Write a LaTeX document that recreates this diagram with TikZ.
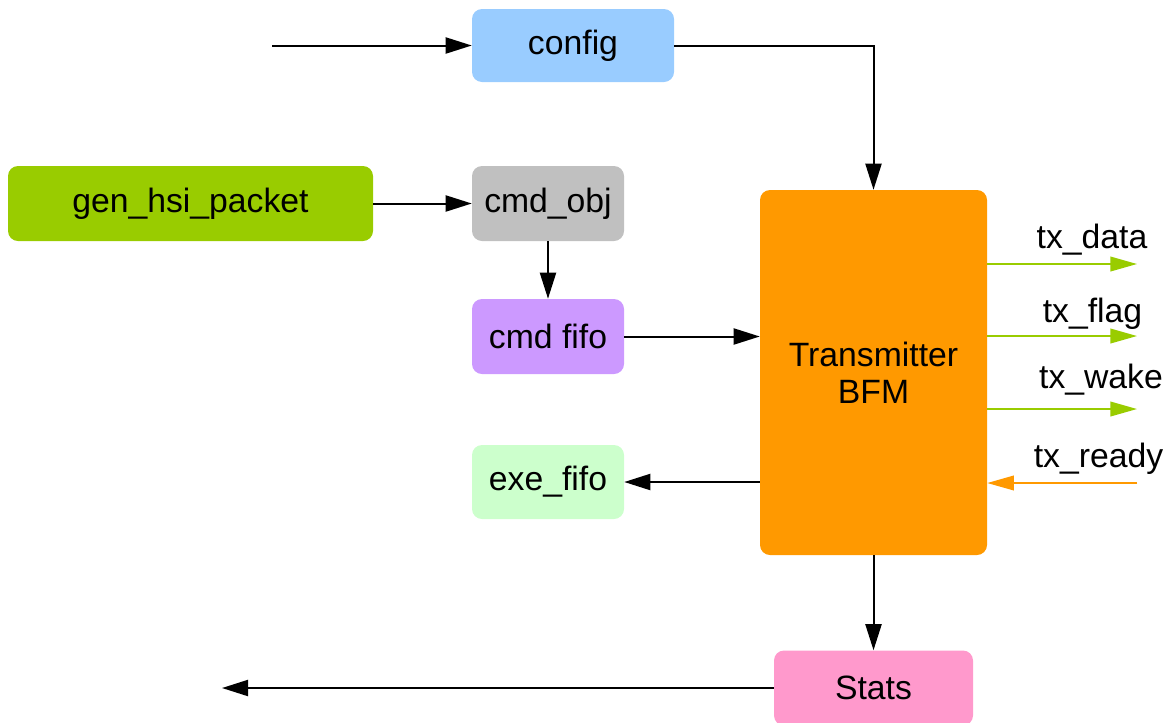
\documentclass[tikz,border=0pt]{standalone}
\usepackage{fontspec}
\setmainfont{Liberation Sans}
\usetikzlibrary{arrows.meta}
\definecolor{cfgblue}{HTML}{99CCFF}
\definecolor{gengreen}{HTML}{99CC00}
\definecolor{objgray}{HTML}{C0C0C0}
\definecolor{fifopurple}{HTML}{CC99FF}
\definecolor{exegreen}{HTML}{CCFFCC}
\definecolor{bfmorange}{HTML}{FF9900}
\definecolor{statspink}{HTML}{FF99CC}
\begin{document}
\begin{tikzpicture}[x=0.75pt,y=-0.75pt,
  box/.style={rounded corners=7.5pt,inner sep=0pt,align=center,
    font=\fontsize{25.3}{27.75}\selectfont},
  conn/.style={line width=1.5pt,-{Triangle[length=19.5pt,width=12pt]}},
  sig/.style={line width=1.3pt,-{Triangle[length=20pt,width=11pt]}},
  lbl/.style={anchor=base,inner sep=0pt,font=\fontsize{25.3}{28}\selectfont}]
\useasboundingbox (0,0) rectangle (1167,722);
\clip (0,0) rectangle (1167,722);

\node[box,fill=cfgblue,minimum width=151.5pt,minimum height=54.75pt] (config) at (573,45.5) {config};
\node[box,fill=gengreen,minimum width=273.75pt,minimum height=56.25pt] (gen) at (190.5,203.5) {gen\_hsi\_packet};
\node[box,fill=objgray,minimum width=114pt,minimum height=56.25pt] (cmdobj) at (548,203.5) {cmd\_obj};
\node[box,fill=fifopurple,minimum width=114pt,minimum height=56.25pt] (cmdfifo) at (548,336.5) {cmd fifo};
\node[box,fill=exegreen,minimum width=114pt,minimum height=55.5pt] (exe) at (548,482) {exe\_fifo};
\node[box,fill=bfmorange,minimum width=170.25pt,minimum height=273.75pt] (bfm) at (873.5,372.5) {Transmitter\\BFM};
\node[box,fill=statspink,minimum width=149.25pt,minimum height=56.25pt] (stats) at (873.5,688) {Stats};

\coordinate (cfgin) at (272,45.5);
\coordinate (statsout) at (222,688);
\coordinate (txd) at (1137,264);
\coordinate (txf) at (1137,336);
\coordinate (txw) at (1137,409);
\coordinate (txr) at (1137,483);

\draw[conn] (cfgin) -- (config.west);
\draw[conn] (config.east) -| (bfm.north);
\draw[conn] (gen.east) -- (cmdobj.west);
\draw[conn] (cmdobj.south) -- (cmdfifo.north);
\draw[conn] (cmdfifo.east) -- (cmdfifo.east -| bfm.west);
\draw[conn] (exe.east -| bfm.west) -- (exe.east);
\draw[conn] (bfm.south) -- (stats.north);
\draw[conn] (stats.west) -- (statsout);

\draw[sig,draw=gengreen,fill=gengreen] (txd -| bfm.east) -- (txd);
\draw[sig,draw=gengreen,fill=gengreen] (txf -| bfm.east) -- (txf);
\draw[sig,draw=gengreen,fill=gengreen] (txw -| bfm.east) -- (txw);
\draw[sig,draw=bfmorange,fill=bfmorange] (txr) -- (txr -| bfm.east);

\node[lbl] (ltxd) at (1092,248) {tx\_data};
\node[lbl] (ltxf) at (1092.5,322) {tx\_flag};
\node[lbl] (ltxw) at (1101,388) {tx\_wake};
\node[lbl] (ltxr) at (1098.5,467) {tx\_ready};
\end{tikzpicture}
\end{document}
